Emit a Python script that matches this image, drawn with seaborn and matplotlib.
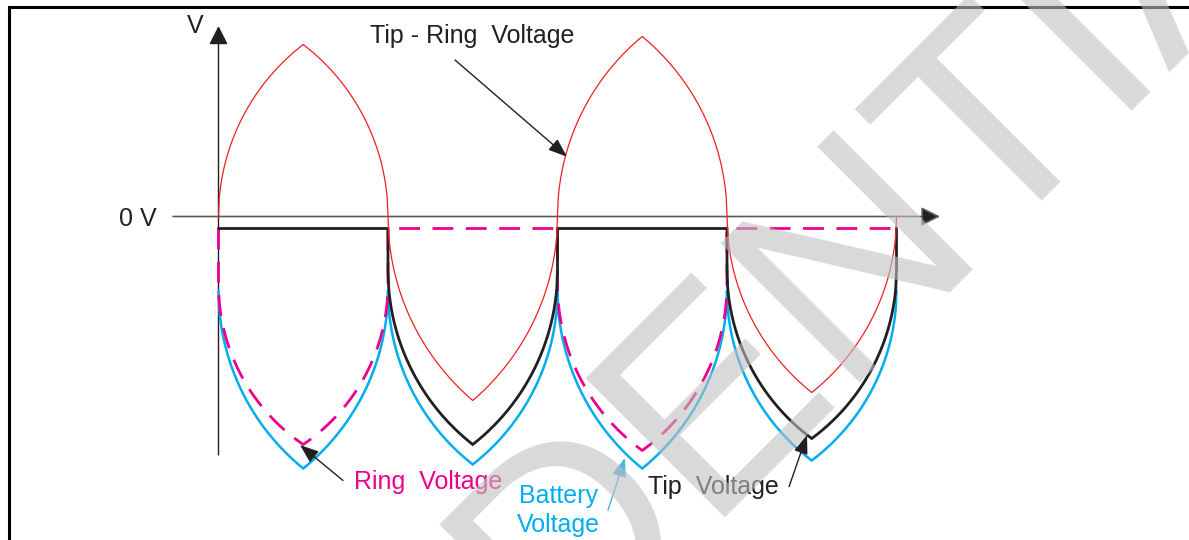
import numpy as np
import pandas as pd
import matplotlib
matplotlib.use("Agg")
import matplotlib.pyplot as plt
from matplotlib.lines import Line2D
import seaborn as sns

# ---------------- data (time in half ring-cycles, voltage in V-units) ----------------
crossings = [0, 1, 2, 3, 4]                    # zero crossings of tip-ring voltage
tip_ring_peaks = [86, -92, 90, -88]            # apex of each half cycle
battery_top = -37                              # battery voltage at crossings
battery_bottoms = [-126, -124, -126, -122]     # battery voltage apex per half cycle
idle_level = -6                                # flat level (tip / ring idle)
tip_arc_top = -27
tip_bottoms = [None, -114, None, -111]         # tip follows battery on half cycles 2, 4
ring_arc_top = -34
ring_bottoms = [-114, None, -117, None]        # ring follows battery on half cycles 1, 3

labels = {
    "tip_ring": "Tip - Ring  Voltage",
    "ring": "Ring  Voltage",
    "battery1": "Battery",
    "battery2": "Voltage",
    "tip": "Tip  Voltage",
    "zero": "0 V",
    "vaxis": "V",
}

# ---------------- figure / axes ----------------
sns.set_style("white")
plt.rcParams["font.family"] = ["Liberation Sans", "DejaVu Sans"]

W, H, DPI = 1189, 540, 100
fig = plt.figure(figsize=(W / DPI, H / DPI), dpi=DPI)
ax = fig.add_axes([0, 0, 1, 1])
ax.axis("off")

X0_PX, T_PX = 218.5, 169.5        # layout: pixel of t=0 and pixels per half cycle
Y0_PX, V_PX = 216.5, 2.0          # layout: pixel of 0 V and pixels per V-unit
xlim = (-X0_PX / T_PX, (W - X0_PX) / T_PX)
ylim = ((Y0_PX - H) / V_PX, Y0_PX / V_PX)
ax.set_xlim(*xlim)
ax.set_ylim(*ylim)
SX = W / (xlim[1] - xlim[0])
SY = H / (ylim[1] - ylim[0])


def arch(t0, t1, y_top, y_apex, n=120):
    """Pointed (gothic) arch of two circular arcs, vertical tangent at the ends."""
    a = 0.5 * (t1 - t0) * SX
    h = abs(y_apex - y_top) * SY
    k = h / a
    c = (1 + k * k) / 2
    s = np.linspace(0, 1, n)
    frac = np.sqrt(np.clip(1 - (1 - s / c) ** 2, 0, None)) / np.sqrt(1 - (1 - 1 / c) ** 2)
    lt = t0 + s * (t1 - t0) / 2
    ly = y_top + (y_apex - y_top) * frac
    rt = t1 - s[::-1] * (t1 - t0) / 2
    ry = y_top + (y_apex - y_top) * frac[::-1]
    return np.concatenate([lt, rt[1:]]), np.concatenate([ly, ry[1:]])


def chain(level, arc_top, bottoms):
    ts, ys = [crossings[0]], [level]
    for i, b in enumerate(bottoms):
        t0, t1 = crossings[i], crossings[i + 1]
        if b is None:
            ts.append(t1); ys.append(level)
        else:
            ts.append(t0); ys.append(arc_top)
            at, ay = arch(t0, t1, arc_top, b)
            ts.extend(at); ys.extend(ay)
            ts.append(t1); ys.append(level)
    return pd.DataFrame({"t": ts, "v": ys})


def arches(top, apexes):
    ts, ys = [], []
    for i, b in enumerate(apexes):
        at, ay = arch(crossings[i], crossings[i + 1], top, b)
        ts.extend(at); ys.extend(ay)
    return pd.DataFrame({"t": ts, "v": ys})


red_df = arches(0, tip_ring_peaks)
blue_df = arches(battery_top, battery_bottoms)
tip_df = chain(idle_level, tip_arc_top, tip_bottoms)
ring_df = chain(idle_level, ring_arc_top, ring_bottoms)

BLUE, MAG, BLK, RED = "#00aeef", "#ec008c", "#231f20", "#f01e23"

# axes arrows
ax.annotate("", xy=(0, 95.25), xytext=(0, -119.25),
            arrowprops=dict(arrowstyle="-|>,head_length=1.15,head_width=0.58",
                            mutation_scale=10, lw=1.0, color=BLK,
                            shrinkA=0, shrinkB=0), zorder=1)
ax.annotate("", xy=(4.2566, 0), xytext=(-0.268, 0),
            arrowprops=dict(arrowstyle="-|>,head_length=1.15,head_width=0.58",
                            mutation_scale=10, lw=1.2, color="#58595b",
                            fc=BLK, shrinkA=0, shrinkB=0), zorder=1)

sns.lineplot(data=blue_df, x="t", y="v", sort=False, estimator=None, ax=ax,
             color=BLUE, lw=1.8, solid_joinstyle="miter", zorder=2)
sns.lineplot(data=ring_df, x="t", y="v", sort=False, estimator=None, ax=ax,
             color=MAG, lw=2.0, linestyle=(0, (7.5, 4.5)), zorder=3)
sns.lineplot(data=tip_df, x="t", y="v", sort=False, estimator=None, ax=ax,
             color=BLK, lw=2.0, solid_joinstyle="miter", zorder=4)
sns.lineplot(data=red_df, x="t", y="v", sort=False, estimator=None, ax=ax,
             color=RED, lw=0.9, zorder=5)
ax.set_xlim(*xlim)
ax.set_ylim(*ylim)
ax.axis("off")

FS = 18
ax.text(1.4985, 86.6, labels["tip_ring"], ha="center", va="baseline", fontsize=FS, color=BLK)
ax.text(1.238, -136.4, labels["ring"], ha="center", va="baseline", fontsize=FS, color=MAG)
ax.text(2.003, -143.1, labels["battery1"], ha="center", va="baseline", fontsize=FS, color=BLUE)
ax.text(2.003, -157.6, labels["battery2"], ha="center", va="baseline", fontsize=FS, color=BLUE)
ax.text(2.919, -138.75, labels["tip"], ha="center", va="baseline", fontsize=FS, color=BLK)
ax.text(-0.3658, -4.6, labels["zero"], ha="right", va="baseline", fontsize=FS, color=BLK)
ax.text(-0.1357, 91.6, labels["vaxis"], ha="center", va="baseline", fontsize=FS, color=BLK)

arrow_kw = dict(arrowstyle="-|>,head_length=1.15,head_width=0.43",
                mutation_scale=10, lw=1.0, shrinkA=0, shrinkB=0)
ax.annotate("", xy=(2.056, 29.9), xytext=(1.3953, 78.25),
            arrowprops=dict(color=BLK, **arrow_kw), zorder=6)
ax.annotate("", xy=(0.4808, -114.25), xytext=(0.7345, -132.0),
            arrowprops=dict(color=BLK, **arrow_kw), zorder=6)
ax.annotate("", xy=(2.398, -120.75), xytext=(2.298, -146.75),
            arrowprops=dict(color="#4fb3de", **arrow_kw), zorder=6)
ax.annotate("", xy=(3.472, -109.25), xytext=(3.366, -135.1),
            arrowprops=dict(color=BLK, **arrow_kw), zorder=6)

# frame
fig.add_artist(Line2D([8.5 / W, 8.5 / W], [0, 1 - 6.5 / H], color="black", lw=2.2,
                      transform=fig.transFigure, solid_capstyle="projecting"))
fig.add_artist(Line2D([8.5 / W, 1], [1 - 6.5 / H, 1 - 6.5 / H], color="black", lw=2.2,
                      transform=fig.transFigure, solid_capstyle="projecting"))

# watermark
fig.text(671 / W, 1 - 557 / H, "CONFIDENTIAL", rotation=45, rotation_mode="anchor",
         ha="center", va="baseline", fontsize=206, color="#c0c0c0", alpha=0.6,
         zorder=100)

fig.savefig("out.png", dpi=DPI)
